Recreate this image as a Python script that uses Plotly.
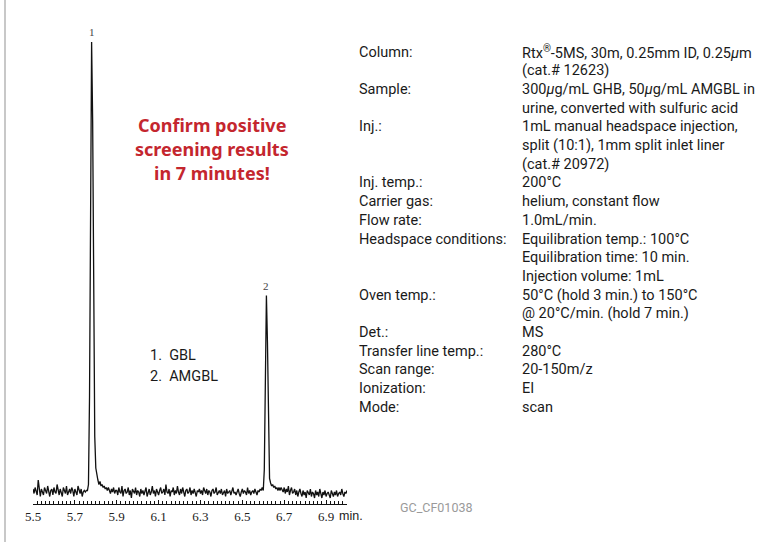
import numpy as np
import plotly.graph_objects as go

W, H = 768, 542

# ---- chromatogram data (time in min, detector response, arbitrary units) ----
time_start = 5.5
time_step = 0.005

signal_a = [2, -1, 3, 1, -2, 8, 1, -3, 2, 0,
            -2, 3, 1, -1, 4, 0, -3, 1, 2, -2,
            3, 0, -1, 5, 1, -2, 2, 0, -3, 3,
            1, -1, 4, -2, 0, 2, -1, 3, 1, -3,
            2, 0, -2, 4, 1, -1, 2, -3, 0, 1]
peak1 = [0, 1, 1, 5, 63, 220, 300, 247, 107, 37,
         16, 10, 8, 5, 7, 4, 5, 3, 4, 2,
         3, 1, 3, 1, -1, 2, 0, 3, -1, 1]
signal_b = [1, -2, 3, 0, -1, 4, -3, 1, 2, -1,
            0, 3, -2, 1, -4, 2, 0, -1, 3, -2,
            1, 0, -3, 2, -1, 1, -2, 0, 3, -3,
            -1, 2, -2, 0, 4, -1, 1, -3, 2, 0,
            -2, 1, 3, -1, 0, 2, -2, 5, 0, -1,
            2, -3, 1, 0, 3, -2, 1, -1, 4, 0,
            -2, 2, -1, 3, 0, -3, 1, 2, -1, 0,
            3, -2, 1, -1, 2, 0, -3, 1, 0, 2,
            -1, 1, -2, 3, 0, -1, 2, -2, 1, 0,
            -3, 1, 2, -1, 0, 3, -2, 0, 1, -1,
            2, -2, 0, 1, -3, 2, -1, 0, 1, -2,
            1, 3, -1, 0, -2, 1, 2, -1, -3, 0,
            2, -1, 1, 0, -2, 3, -1, 1, -2, 0,
            1, -1, 2, 0, -2, 1, 0, 2, 1, 3]
peak2 = [1, 15, 90, 131, 100, 33, 9, 6, 4, 5,
         3, 4, 2, 3, 1, 3, 1, 3, 1, 0]
signal_c = [3, -1, 2, 0, 4, -2, 1, 3, -1, 0,
            2, -2, 1, -3, 0, 2, -1, -3, 1, -2,
            0, -4, 1, -1, -2, 2, -3, 0, -1, -4,
            1, -2, 0, -3, 2, -1, -4, 0, -2, 1,
            -3, -1, 0, -2, -4, 1, -1, -3, 0, -2,
            1, -3, -1, 0, -2, 2, -1, -3, 0, -1,
            1]

signal = signal_a + peak1 + signal_b + peak2 + signal_c
times = time_start + time_step * np.arange(len(signal))

peak_times = [5.780, 6.615]
peak_heights = [300, 131]
peak_labels = ["1", "2"]

tick_start = 5.5
tick_step = 0.2

# ---- conditions text ----
cond_labels = ["Column:", "", "Sample:", "", "Inj.:", "", "", "Inj. temp.:",
               "Carrier gas:", "Flow rate:", "Headspace conditions:", "", "",
               "Oven temp.:", "", "Det.:", "Transfer line temp.:",
               "Scan range:", "Ionization:", "Mode:"]
cond_values = ["Rtx<sup>®</sup>-5MS, 30m, 0.25mm ID, 0.25<i>μ</i>m",
               "(cat.# 12623)",
               "300<i>μ</i>g/mL GHB, 50<i>μ</i>g/mL AMGBL in",
               "urine, converted with sulfuric acid",
               "1mL manual headspace injection,",
               "split (10:1), 1mm split inlet liner",
               "(cat.# 20972)",
               "200°C",
               "helium, constant flow",
               "1.0mL/min.",
               "Equilibration temp.: 100°C",
               "Equilibration time: 10 min.",
               "Injection volume: 1mL",
               "50°C (hold 3 min.) to 150°C",
               "@ 20°C/min. (hold 7 min.)",
               "MS",
               "280°C",
               "20-150m/z",
               "EI",
               "scan"]
headline = ["Confirm positive", "screening results", "in 7 minutes!"]
legend_lines = ["1.  GBL", "2.  AMGBL"]
footer = "GC_CF01038"

TXT_FONT = "Roboto, Liberation Sans, Arial, sans-serif"
TXT_SIZE = 14.5


def px(x):
    return x / W


def py(y):
    return 1 - y / H


fig = go.Figure()
fig.add_trace(go.Scatter(x=times, y=signal, mode="lines",
                         line=dict(color="#111111", width=1.3),
                         hoverinfo="skip", showlegend=False))

fig.update_layout(
    template="none",
    width=W, height=H,
    margin=dict(l=0, r=0, t=0, b=0, pad=0, autoexpand=False),
    paper_bgcolor="white", plot_bgcolor="white",
    showlegend=False,
    xaxis=dict(domain=[px(33), px(347)], range=[5.5, 7.0],
               automargin=False,
               showgrid=False, zeroline=False,
               showline=True, linecolor="#111111", linewidth=1,
               tickmode="linear", tick0=tick_start, dtick=tick_step,
               tickformat=".1f", ticks="inside", ticklen=4,
               tickcolor="#111111", tickwidth=1,
               ticklabelstandoff=0,
               minor=dict(tickmode="linear", tick0=5.5, dtick=0.02,
                          ticks="inside", ticklen=3, tickcolor="#111111",
                          tickwidth=1),
               tickfont=dict(family="Liberation Serif, serif", size=13,
                             color="#222222")),
    yaxis=dict(domain=[1 - 504 / H, 1 - 32 / H], range=[-8, 306.7],
               automargin=False,
               visible=False, showgrid=False, zeroline=False),
)

annotations = []
# peak numbers
for t, h, lab in zip(peak_times, peak_heights, peak_labels):
    annotations.append(dict(x=t, y=h, xref="x", yref="y", text=lab,
                            showarrow=False, yshift=10,
                            font=dict(family="Liberation Serif, serif",
                                      size=11, color="#444444")))
# "min." unit
annotations.append(dict(x=px(337), y=py(516), xref="paper", yref="paper",
                        text="min.", showarrow=False, xanchor="left",
                        yanchor="middle",
                        font=dict(family="Liberation Sans, sans-serif",
                                  size=12.5, color="#222222")))
# conditions
for i, (lab, val) in enumerate(zip(cond_labels, cond_values)):
    yy = 52 + i * 18.7
    if lab:
        annotations.append(dict(x=px(357), y=py(yy), xref="paper",
                                yref="paper", text=lab, showarrow=False,
                                xanchor="left", yanchor="middle",
                                font=dict(family=TXT_FONT, size=TXT_SIZE,
                                          color="#1a1a1a")))
    annotations.append(dict(x=px(520), y=py(yy), xref="paper", yref="paper",
                            text=val, showarrow=False, xanchor="left",
                            yanchor="middle",
                            font=dict(family=TXT_FONT, size=TXT_SIZE,
                                      color="#1a1a1a")))
# headline
for i, line in enumerate(headline):
    annotations.append(dict(x=px(212), y=py(125 + i * 24), xref="paper",
                            yref="paper", text="<b>" + line + "</b>",
                            showarrow=False, xanchor="center",
                            yanchor="middle",
                            font=dict(family="Noto Sans, sans-serif",
                                      size=18, color="#c4262e")))
# peak legend
for i, line in enumerate(legend_lines):
    annotations.append(dict(x=px(148), y=py(355 + i * 21), xref="paper",
                            yref="paper", text=line, showarrow=False,
                            xanchor="left", yanchor="middle",
                            font=dict(family=TXT_FONT, size=TXT_SIZE,
                                      color="#1a1a1a")))
# footer code
annotations.append(dict(x=px(398), y=py(507), xref="paper", yref="paper",
                        text=footer, showarrow=False, xanchor="left",
                        yanchor="middle",
                        font=dict(family=TXT_FONT, size=12.5,
                                  color="#9a9a9a")))
fig.update_layout(annotations=annotations)

# left border rule
fig.add_shape(type="line", xref="paper", yref="paper",
              x0=px(5), x1=px(5), y0=0, y1=1,
              line=dict(color="#c8c8c8", width=2))

fig.write_html(
    "out.html",
    config={"displayModeBar": False},
    post_script=(
        "document.documentElement.style.margin='0';"
        "document.body.style.margin='0';"
        "document.body.style.padding='0';"
        "document.body.style.overflow='hidden';"
        "var d=document.getElementById('{plot_id}');"
        "d.style.position='fixed';d.style.left='0px';d.style.top='0px';"
    ),
)
